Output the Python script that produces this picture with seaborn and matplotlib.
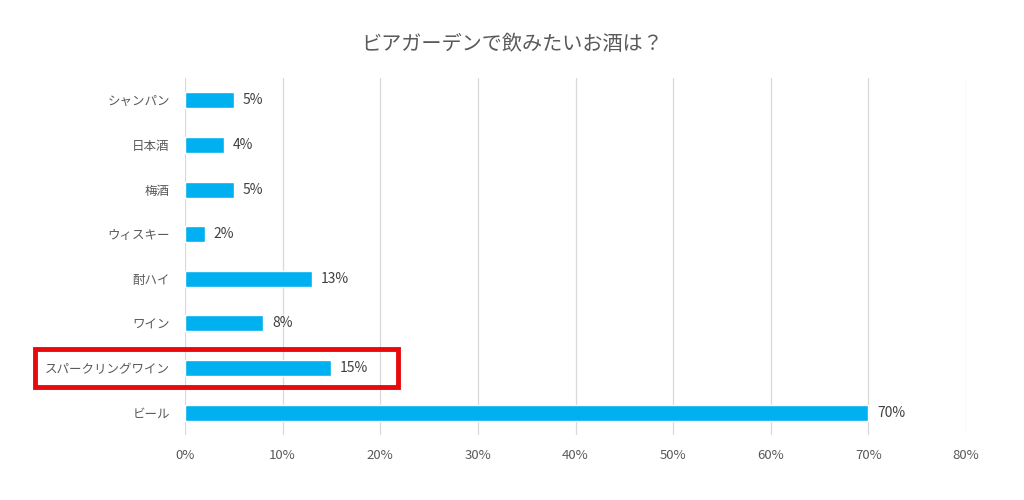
import matplotlib
matplotlib.use("Agg")
import matplotlib.pyplot as plt
import seaborn as sns
import pandas as pd
from matplotlib.patches import Rectangle
from matplotlib.transforms import blended_transform_factory

categories = ["シャンパン", "日本酒", "梅酒", "ウィスキー", "酎ハイ", "ワイン", "スパークリングワイン", "ビール"]
values = [5, 4, 5, 2, 13, 8, 15, 70]
xticks = [0, 10, 20, 30, 40, 50, 60, 70, 80]
xtick_labels = [f"{v}%" for v in xticks]
highlight = "スパークリングワイン"
title = "ビアガーデンで飲みたいお酒は？"

sns.set_theme(style="white")
plt.rcParams['font.family'] = ['Noto Sans CJK JP', 'DejaVu Sans']

df = pd.DataFrame({"cat": categories, "val": values})

fig = plt.figure(figsize=(10.24, 5.0), dpi=100)
ax = fig.add_axes([185/1024, 1-435/500, (966-185)/1024, (435-78)/500])

sns.barplot(data=df, x="val", y="cat", order=categories, color="#00B0F0",
            saturation=1, width=0.36, ax=ax, orient="h")

ax.set_xlim(0, 80)
ax.set_ylim(len(categories)-0.5, -0.5)
ax.set_xticks(xticks)
ax.set_xticklabels(xtick_labels, color="#595959", fontsize=9.5)
ax.tick_params(axis="y", labelsize=9, labelcolor="#595959", length=0, pad=11)
ax.tick_params(axis="x", length=0, pad=10)
ax.set_xlabel("")
ax.set_ylabel("")
ax.grid(axis="x", color="#d9d9d9", linewidth=0.9)
ax.set_axisbelow(True)
for s in ax.spines.values():
    s.set_visible(False)

for i, v in enumerate(values):
    ax.text(v + 0.9, i, f"{v}%", va="center", ha="left", fontsize=10, color="#404040")

fig.text(0.5, 1-45/500, title, ha="center", va="center", fontsize=14.5, color="#595959")

idx = categories.index(highlight)
trans = blended_transform_factory(fig.transFigure, ax.transData)
rect = Rectangle((35/1024, idx + 0.43), (398-35)/1024, -0.86, transform=trans,
                 fill=False, edgecolor="#e8090d", linewidth=3.5, clip_on=False)
fig.add_artist(rect)

fig.savefig("out.png", dpi=100, facecolor="white")
